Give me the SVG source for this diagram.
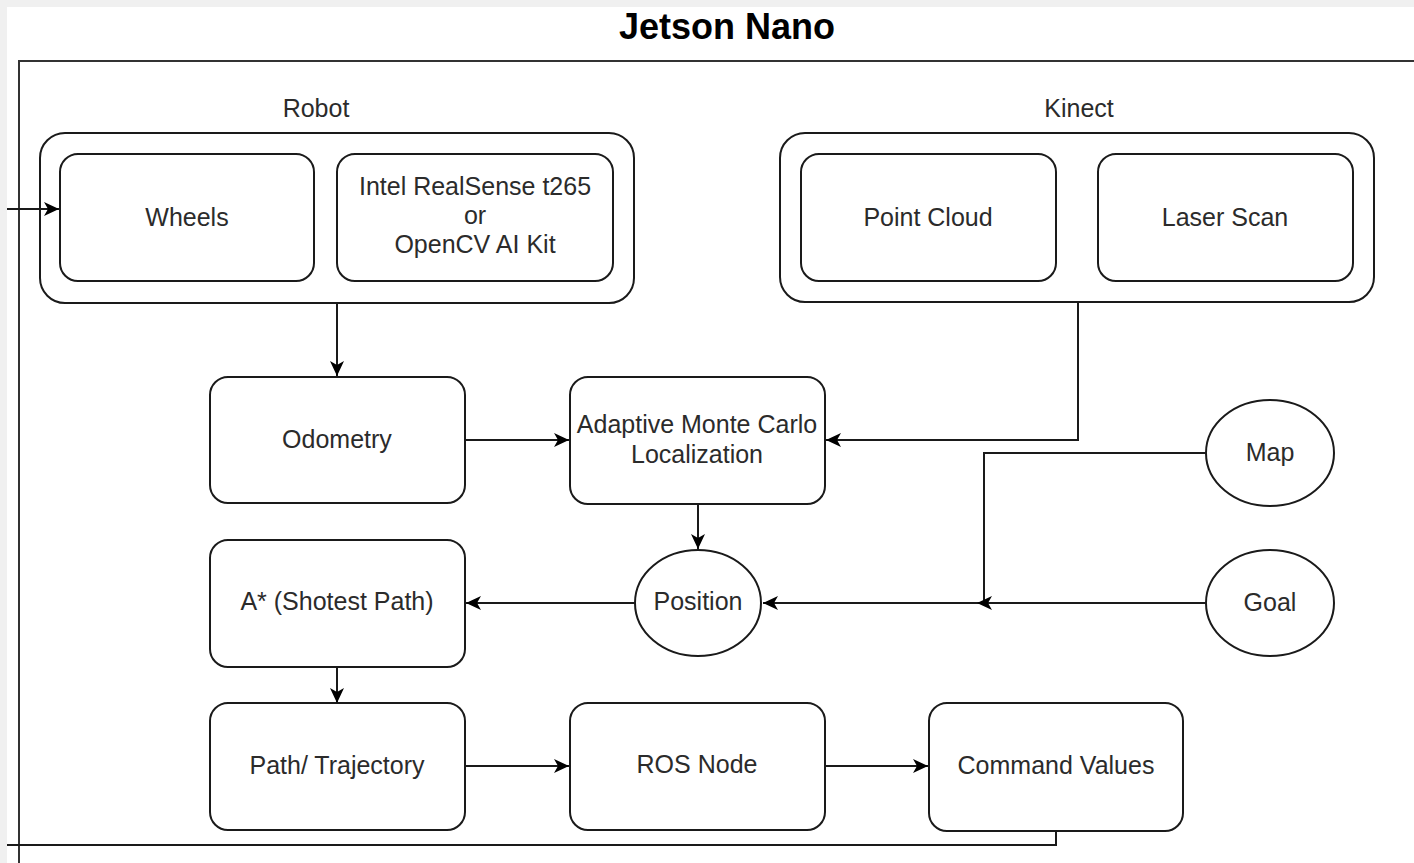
<svg xmlns="http://www.w3.org/2000/svg" width="1414" height="863" viewBox="0 0 1414 863">
<style>
  .box { fill: #ffffff; stroke: #1a1a1a; stroke-width: 2; }
  .frame { fill: none; stroke: #333333; stroke-width: 2; }
  .lbl { font-family: "Liberation Sans", Arial, sans-serif; font-size: 25px; fill: #2b2b2b; text-anchor: middle; }
  .title { font-family: "Liberation Sans", Arial, sans-serif; font-size: 36px; font-weight: bold; fill: #000000; text-anchor: middle; }
  .edge { fill: none; stroke: #1a1a1a; stroke-width: 2; }
</style>
<defs>
  <marker id="arr" markerWidth="16" markerHeight="14" refX="15" refY="7" orient="auto" markerUnits="userSpaceOnUse">
    <path d="M0,0 L15,7 L0,14 L4,7 Z" fill="#000000"/>
  </marker>
</defs>
<rect x="0" y="0" width="1414" height="863" fill="#ffffff"/>

<g id="jetson">
  <rect class="frame" x="19" y="61" width="1420" height="830"/>
  <text class="title" x="727" y="39">Jetson Nano</text>
</g>

<g id="robot">
  <rect class="box" x="40" y="133" width="594" height="170" rx="25" ry="25"/>
  <text class="lbl" x="316" y="117">Robot</text>
</g>
<g id="wheels">
  <rect class="box" x="60" y="154" width="254" height="127" rx="18" ry="18"/>
  <text class="lbl" x="187" y="226">Wheels</text>
</g>
<g id="intel">
  <rect class="box" x="337" y="154" width="276" height="127" rx="18" ry="18"/>
  <text class="lbl" x="475" y="195">Intel RealSense t265</text>
  <text class="lbl" x="475" y="224">or</text>
  <text class="lbl" x="475" y="253">OpenCV AI Kit</text>
</g>

<g id="kinect">
  <rect class="box" x="780" y="133" width="594" height="169" rx="25" ry="25"/>
  <text class="lbl" x="1079" y="117">Kinect</text>
</g>
<g id="pointcloud">
  <rect class="box" x="801" y="154" width="255" height="127" rx="18" ry="18"/>
  <text class="lbl" x="928" y="226">Point Cloud</text>
</g>
<g id="laserscan">
  <rect class="box" x="1098" y="154" width="255" height="127" rx="18" ry="18"/>
  <text class="lbl" x="1225" y="226">Laser Scan</text>
</g>

<g id="odometry">
  <rect class="box" x="210" y="377" width="255" height="126" rx="18" ry="18"/>
  <text class="lbl" x="337" y="448">Odometry</text>
</g>
<g id="amcl">
  <rect class="box" x="570" y="377" width="255" height="127" rx="18" ry="18"/>
  <text class="lbl" x="697" y="433">Adaptive Monte Carlo</text>
  <text class="lbl" x="697" y="463">Localization</text>
</g>
<g id="map">
  <ellipse class="box" cx="1270" cy="453" rx="64" ry="53"/>
  <text class="lbl" x="1270" y="461">Map</text>
</g>
<g id="astar">
  <rect class="box" x="210" y="540" width="255" height="127" rx="18" ry="18"/>
  <text class="lbl" x="337" y="610">A* (Shotest Path)</text>
</g>
<g id="position">
  <ellipse class="box" cx="698" cy="603" rx="63" ry="53"/>
  <text class="lbl" x="698" y="610">Position</text>
</g>
<g id="goal">
  <ellipse class="box" cx="1270" cy="603" rx="64" ry="53"/>
  <text class="lbl" x="1270" y="611">Goal</text>
</g>
<g id="path">
  <rect class="box" x="210" y="703" width="255" height="127" rx="18" ry="18"/>
  <text class="lbl" x="337" y="774">Path/ Trajectory</text>
</g>
<g id="rosnode">
  <rect class="box" x="570" y="703" width="255" height="127" rx="18" ry="18"/>
  <text class="lbl" x="697" y="773">ROS Node</text>
</g>
<g id="command">
  <rect class="box" x="929" y="703" width="254" height="128" rx="18" ry="18"/>
  <text class="lbl" x="1056" y="774">Command Values</text>
</g>

<g id="connectors">
  <path class="edge" d="M337,303 V376" marker-end="url(#arr)"/>
  <path class="edge" d="M1078,302 V440 H826" marker-end="url(#arr)"/>
  <path class="edge" d="M465,440 H569" marker-end="url(#arr)"/>
  <path class="edge" d="M698,504 V549" marker-end="url(#arr)"/>
  <path class="edge" d="M635,603 H466" marker-end="url(#arr)"/>
  <path class="edge" d="M1206,603 H763" marker-end="url(#arr)"/>
  <path class="edge" d="M1206,453 H984 V603 H977" marker-end="url(#arr)"/>
  <path class="edge" d="M337,667 V703" marker-end="url(#arr)"/>
  <path class="edge" d="M465,766 H569" marker-end="url(#arr)"/>
  <path class="edge" d="M825,766 H928" marker-end="url(#arr)"/>
  <path class="edge" d="M1056,831 V845 H7 M7,209 H59" marker-end="url(#arr)"/>
</g>

<rect x="0" y="0" width="1414" height="7" fill="#f0f0f0"/>
<rect x="0" y="0" width="7" height="863" fill="#f0f0f0"/>
</svg>
